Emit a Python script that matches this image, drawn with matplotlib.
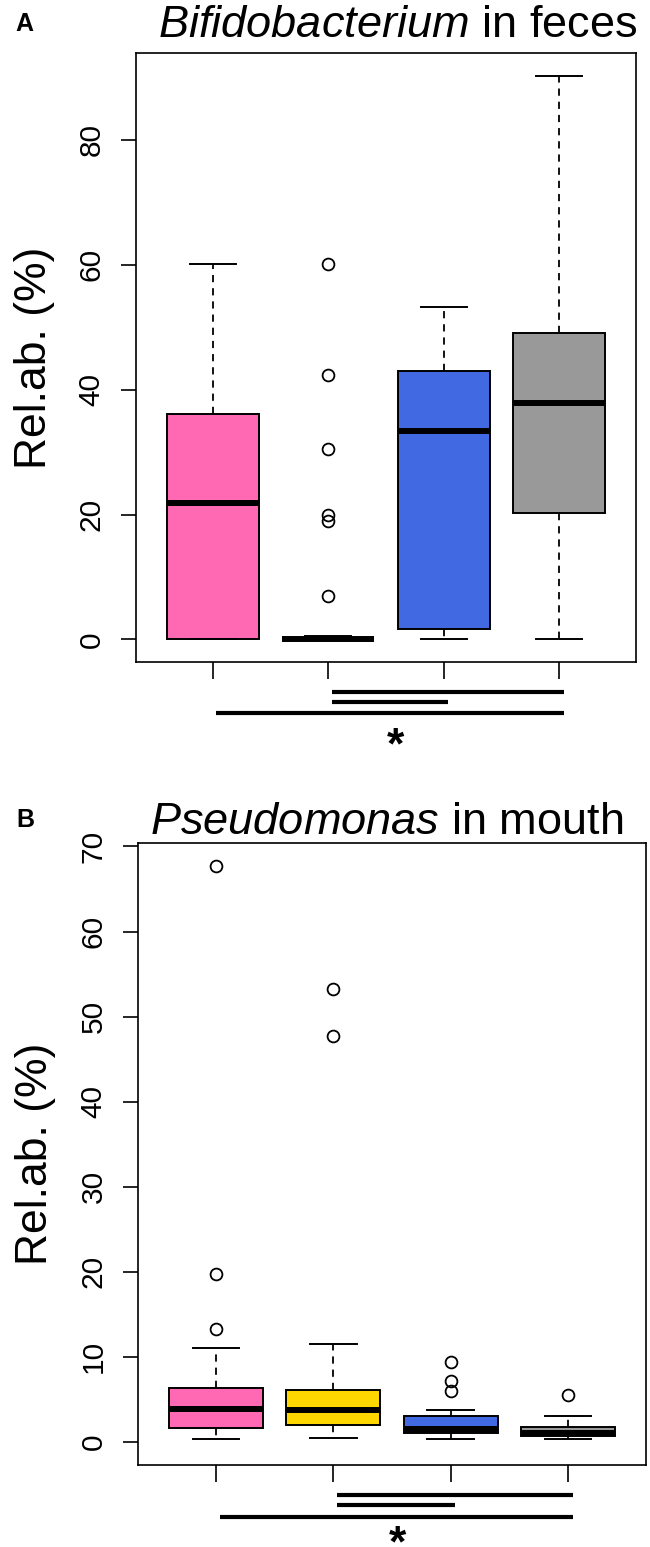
import matplotlib
matplotlib.use("Agg")
import matplotlib.pyplot as plt
import matplotlib.transforms as mtransforms

plt.rcParams['font.family'] = ['Liberation Sans', 'DejaVu Sans']
plt.rcParams['mathtext.fontset'] = 'custom'
plt.rcParams['mathtext.rm'] = 'Liberation Sans'
plt.rcParams['mathtext.it'] = 'Liberation Sans:italic'
plt.rcParams['mathtext.bf'] = 'Liberation Sans:bold'

# Boxplot stats (Rel.ab. %)
groups = [1, 2, 3, 4]
colors = ['#FF69B4', '#FFD700', '#4169E1', '#999999']

# A: Bifidobacterium in feces
feces_whislo = [0.0, 0.0, 0.0, 0.0]
feces_q1 = [0.0, 0.0, 1.6, 20.2]
feces_med = [21.8, 0.0, 33.3, 37.9]
feces_q3 = [36.1, 0.15, 43.0, 49.0]
feces_whishi = [60.1, 0.5, 53.3, 90.3]
feces_fliers = [[], [60.2, 42.4, 30.5, 19.9, 19.0, 6.9], [], []]

# B: Pseudomonas in mouth
mouth_whislo = [0.3, 0.45, 0.3, 0.3]
mouth_q1 = [1.7, 2.0, 1.1, 0.7]
mouth_med = [3.9, 3.8, 1.5, 1.1]
mouth_q3 = [6.3, 6.1, 3.1, 1.8]
mouth_whishi = [11.0, 11.5, 3.8, 3.1]
mouth_fliers = [[13.3, 19.8, 67.7], [53.3, 47.7], [9.4, 7.2, 6.0], [5.5]]

feces_ticks = [0, 20, 40, 60, 80]
mouth_ticks = [0, 10, 20, 30, 40, 50, 60, 70]

# pairwise comparisons drawn under the axes (group from, group to)
pairs = [(2, 4), (2, 3), (1, 4)]

W, H = 650, 1547
fig = plt.figure(figsize=(W / 100, H / 100), dpi=100)


def px_axes(left, top, right, bottom):
    return fig.add_axes([left / W, 1 - bottom / H, (right - left) / W, (bottom - top) / H])


def draw_panel(ax, whislo, q1, med, q3, whishi, fliers, ticks, ymax, star_x, star_y):
    stats = []
    for i in range(len(groups)):
        stats.append(dict(whislo=whislo[i], q1=q1[i], med=med[i], q3=q3[i],
                          whishi=whishi[i], fliers=fliers[i]))
    bp = ax.bxp(stats, positions=groups, widths=0.8, patch_artist=True,
                showfliers=True,
                boxprops=dict(linewidth=1.4, edgecolor='black'),
                medianprops=dict(color='black', linewidth=4.3, solid_capstyle='butt'),
                whiskerprops=dict(color='black', linewidth=1.3, linestyle=(0, (4, 3.3))),
                capprops=dict(color='black', linewidth=1.4),
                capwidths=0.4,
                flierprops=dict(marker='o', markersize=8.5, markerfacecolor='none',
                                markeredgecolor='black', markeredgewidth=1.3))
    for patch, c in zip(bp['boxes'], colors):
        patch.set_facecolor(c)
    ax.set_xlim(0.335, 4.665)
    pad = ymax * 0.04
    ax.set_ylim(-pad, ymax + pad)
    ax.set_xticks(groups)
    ax.set_xticklabels([])
    ax.set_yticks(ticks)
    ax.set_yticklabels([str(t) for t in ticks], rotation=90, va='center')
    ax.tick_params(axis='y', length=11, width=1.2, labelsize=21.5, pad=11)
    ax.tick_params(axis='x', length=12, width=1.2)
    for s in ax.spines.values():
        s.set_linewidth(1.2)
    ax.set_ylabel('Rel.ab. (%)', fontsize=32)
    ax.yaxis.set_label_coords(-0.162, 0.5)

    # comparison lines and star below the axis
    trans = mtransforms.blended_transform_factory(ax.transData, ax.transAxes)
    ys = [-0.049, -0.065, -0.083]
    for (g1, g2), y in zip(pairs, ys):
        ax.plot([g1 + 0.03, g2 + 0.04], [y, y], color='black', lw=3,
                transform=trans, clip_on=False, solid_capstyle='butt')
    ax.text(star_x, star_y, r'$\mathbf{*}$', transform=trans, ha='center', va='center',
            fontsize=32)


axA = px_axes(136, 53, 636, 662)
draw_panel(axA, feces_whislo, feces_q1, feces_med, feces_q3, feces_whishi,
           feces_fliers, feces_ticks, max(feces_whishi), 2.585, -0.138)
axB = px_axes(138, 843, 646, 1465)
draw_panel(axB, mouth_whislo, mouth_q1, mouth_med, mouth_q3, mouth_whishi,
           mouth_fliers, mouth_ticks, max(max(f) for f in mouth_fliers), 2.55, -0.127)

fig.text(398 / W, 1 - 37 / H, r'$\mathit{Bifidobacterium}$ in feces', ha='center',
         va='baseline', fontsize=32.5)
fig.text(386.5 / W, 1 - 834 / H, r'$\mathit{Pseudomonas}$ in mouth', ha='center',
         va='baseline', fontsize=32.5)
fig.text(15 / W, 1 - 31 / H, 'A', fontsize=18, fontweight='bold', va='baseline')
fig.text(16 / W, 1 - 827 / H, 'B', fontsize=18, fontweight='bold', va='baseline')

fig.savefig('out.png', dpi=100)
